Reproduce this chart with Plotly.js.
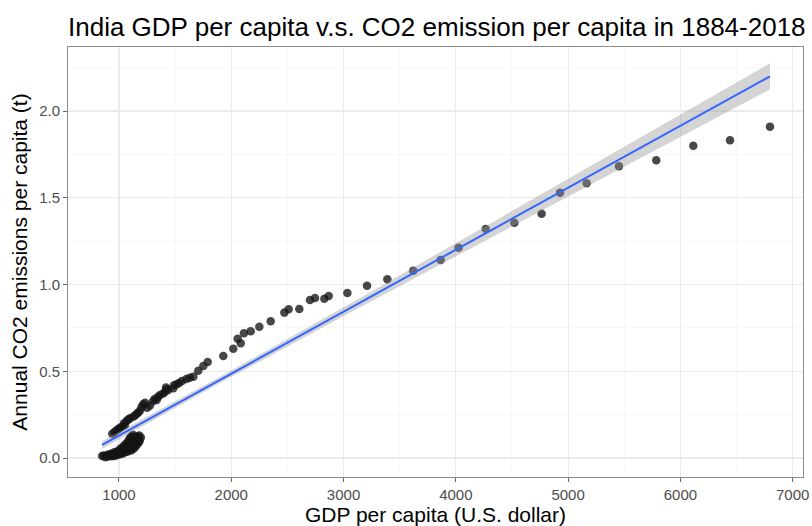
<!DOCTYPE html>
<html>
<head>
<meta charset="utf-8">
<script src="https://cdn.plot.ly/plotly-3.0.1.min.js"></script>
<style>html,body{margin:0;padding:0;background:#fff;}#chart{width:812px;height:526px;}</style>
</head>
<body>
<div id="chart"></div>
<script>
// GDP per capita (U.S. dollar) and annual CO2 emissions per capita (t), India 1884-2018
var gdp = [
850,900,880,935,865,920,960,890,945,985,905,960,1010,930,990,1035,955,1015,1060,975,
1040,1000,1080,1025,1065,1110,1045,1095,1010,1075,1130,1060,1110,1035,1090,1145,1075,1125,1050,1105,
1160,1090,1140,1070,1120,1175,1100,1155,1085,1135,1185,1115,1170,1095,1150,1195,1130,1165,1110,1145,
1180,1125,
940,960,980,1000,1009,1030,1053,1045,1069,1098,1085,1127,1142,1160,1172,1190,1202,1216,1232,1252,
1276,1305,1320,1336,1350,1365,1395,1410,1425,1439,
1419,1484,1490,1514,1535,1561,1600,1630,1662,1706,1751,1790,1929,2018,2057,2084,2113,2173,2250,2351,
2473,2511,2606,2701,2746,2829,2868,3034,3209,3390,3621,3865,4025,4266,4521,4764,4928,5165,5453,5785,
6115,6442,6798
];
var co2 = [
0.012,0.008,0.005,0.010,0.014,0.013,0.011,0.015,0.016,0.018,0.020,0.022,0.021,0.025,0.027,0.026,0.031,0.030,0.034,0.036,
0.035,0.040,0.038,0.043,0.045,0.044,0.050,0.048,0.053,0.055,0.053,0.060,0.058,0.063,0.066,0.064,0.070,0.072,0.075,0.078,
0.076,0.083,0.082,0.087,0.090,0.088,0.095,0.094,0.099,0.102,0.100,0.107,0.108,0.112,0.116,0.118,0.114,0.124,0.126,0.122,
0.130,0.134,
0.140,0.150,0.161,0.168,0.175,0.182,0.190,0.200,0.215,0.229,0.222,0.238,0.245,0.255,0.262,0.275,0.296,0.310,0.318,0.290,
0.302,0.328,0.342,0.335,0.353,0.363,0.372,0.382,0.396,0.392,
0.407,0.402,0.419,0.425,0.432,0.444,0.455,0.462,0.469,0.503,0.530,0.553,0.588,0.630,0.688,0.661,0.719,0.730,0.757,0.788,
0.838,0.857,0.859,0.911,0.922,0.918,0.934,0.951,0.993,1.030,1.080,1.141,1.212,1.320,1.356,1.408,1.529,1.583,1.681,1.716,
1.800,1.831,1.910
];
var xTicks = [1000,2000,3000,4000,5000,6000,7000];
var yTicks = [0.0,0.5,1.0,1.5,2.0];
var yTickText = ['0.0','0.5','1.0','1.5','2.0'];

// linear model fit (lm) with 95% confidence band
var n = gdp.length, mx = 0, my = 0;
for (var i = 0; i < n; i++) { mx += gdp[i]; my += co2[i]; }
mx /= n; my /= n;
var sxx = 0, sxy = 0;
for (i = 0; i < n; i++) { sxx += (gdp[i]-mx)*(gdp[i]-mx); sxy += (gdp[i]-mx)*(co2[i]-my); }
var b = sxy / sxx, a = my - b*mx;
var sse = 0;
for (i = 0; i < n; i++) { var r = co2[i] - (a + b*gdp[i]); sse += r*r; }
var s = Math.sqrt(sse/(n-2)), tq = 1.978;
var xmin = Math.min.apply(null, gdp), xmax = Math.max.apply(null, gdp);
var fx = [], fy = [], lo = [], hi = [];
for (i = 0; i <= 80; i++) {
  var xx = xmin + (xmax - xmin)*i/80;
  var yy = a + b*xx;
  var se = s*Math.sqrt(1/n + (xx-mx)*(xx-mx)/sxx);
  fx.push(xx); fy.push(yy); lo.push(yy - tq*se); hi.push(yy + tq*se);
}

var traces = [
  {x: gdp, y: co2, type: 'scatter', mode: 'markers', hoverinfo: 'skip',
   marker: {size: 8.5, color: 'rgba(20,20,20,0.78)', line: {width: 0}}},
  {x: fx, y: lo, type: 'scatter', mode: 'lines', line: {width: 0}, hoverinfo: 'skip'},
  {x: fx, y: hi, type: 'scatter', mode: 'lines', line: {width: 0}, fill: 'tonexty',
   fillcolor: 'rgba(153,153,153,0.42)', hoverinfo: 'skip'},
  {x: fx, y: fy, type: 'scatter', mode: 'lines', line: {color: '#3366FF', width: 2}, hoverinfo: 'skip'}
];

var layout = {
  width: 812, height: 526,
  margin: {l: 68, r: 9, t: 47, b: 49},
  paper_bgcolor: '#ffffff', plot_bgcolor: '#ffffff',
  showlegend: false,
  font: {family: 'Liberation Sans, Arial, sans-serif', color: '#000'},
  title: {text: 'India GDP per capita v.s. CO2 emission per capita in 1884-2018',
          x: 0, xref: 'paper', xanchor: 'left', y: 0.949, yref: 'container', yanchor: 'middle',
          font: {size: 26, color: '#000'}},
  xaxis: {
    range: [546, 7092], tickvals: xTicks, ticktext: xTicks.map(String),
    showgrid: true, gridcolor: '#ebebeb', gridwidth: 1.1,
    minor: {dtick: 500, tick0: 0, showgrid: true, gridcolor: '#f3f3f3', gridwidth: 0.6, ticks: ''},
    zeroline: false, showline: true, mirror: true, linecolor: '#8c8c8c', linewidth: 1,
    ticks: 'outside', ticklen: 4, tickcolor: '#666', tickwidth: 1,
    tickfont: {size: 15, color: '#4d4d4d'},
    title: {text: 'GDP per capita (U.S. dollar)', font: {size: 21, color: '#000'}, standoff: 3}
  },
  yaxis: {
    range: [-0.1095, 2.369], tickvals: yTicks, ticktext: yTickText,
    showgrid: true, gridcolor: '#ebebeb', gridwidth: 1.1,
    minor: {dtick: 0.25, tick0: 0, showgrid: true, gridcolor: '#f3f3f3', gridwidth: 0.6, ticks: ''},
    zeroline: false, showline: true, mirror: true, linecolor: '#8c8c8c', linewidth: 1,
    ticks: 'outside', ticklen: 4, tickcolor: '#666', tickwidth: 1,
    tickfont: {size: 15, color: '#4d4d4d'},
    title: {text: 'Annual CO2 emissions per capita (t)', font: {size: 21, color: '#000'}, standoff: 5}
  }
};

Plotly.newPlot('chart', traces, layout, {staticPlot: true, displayModeBar: false});
</script>
</body>
</html>
